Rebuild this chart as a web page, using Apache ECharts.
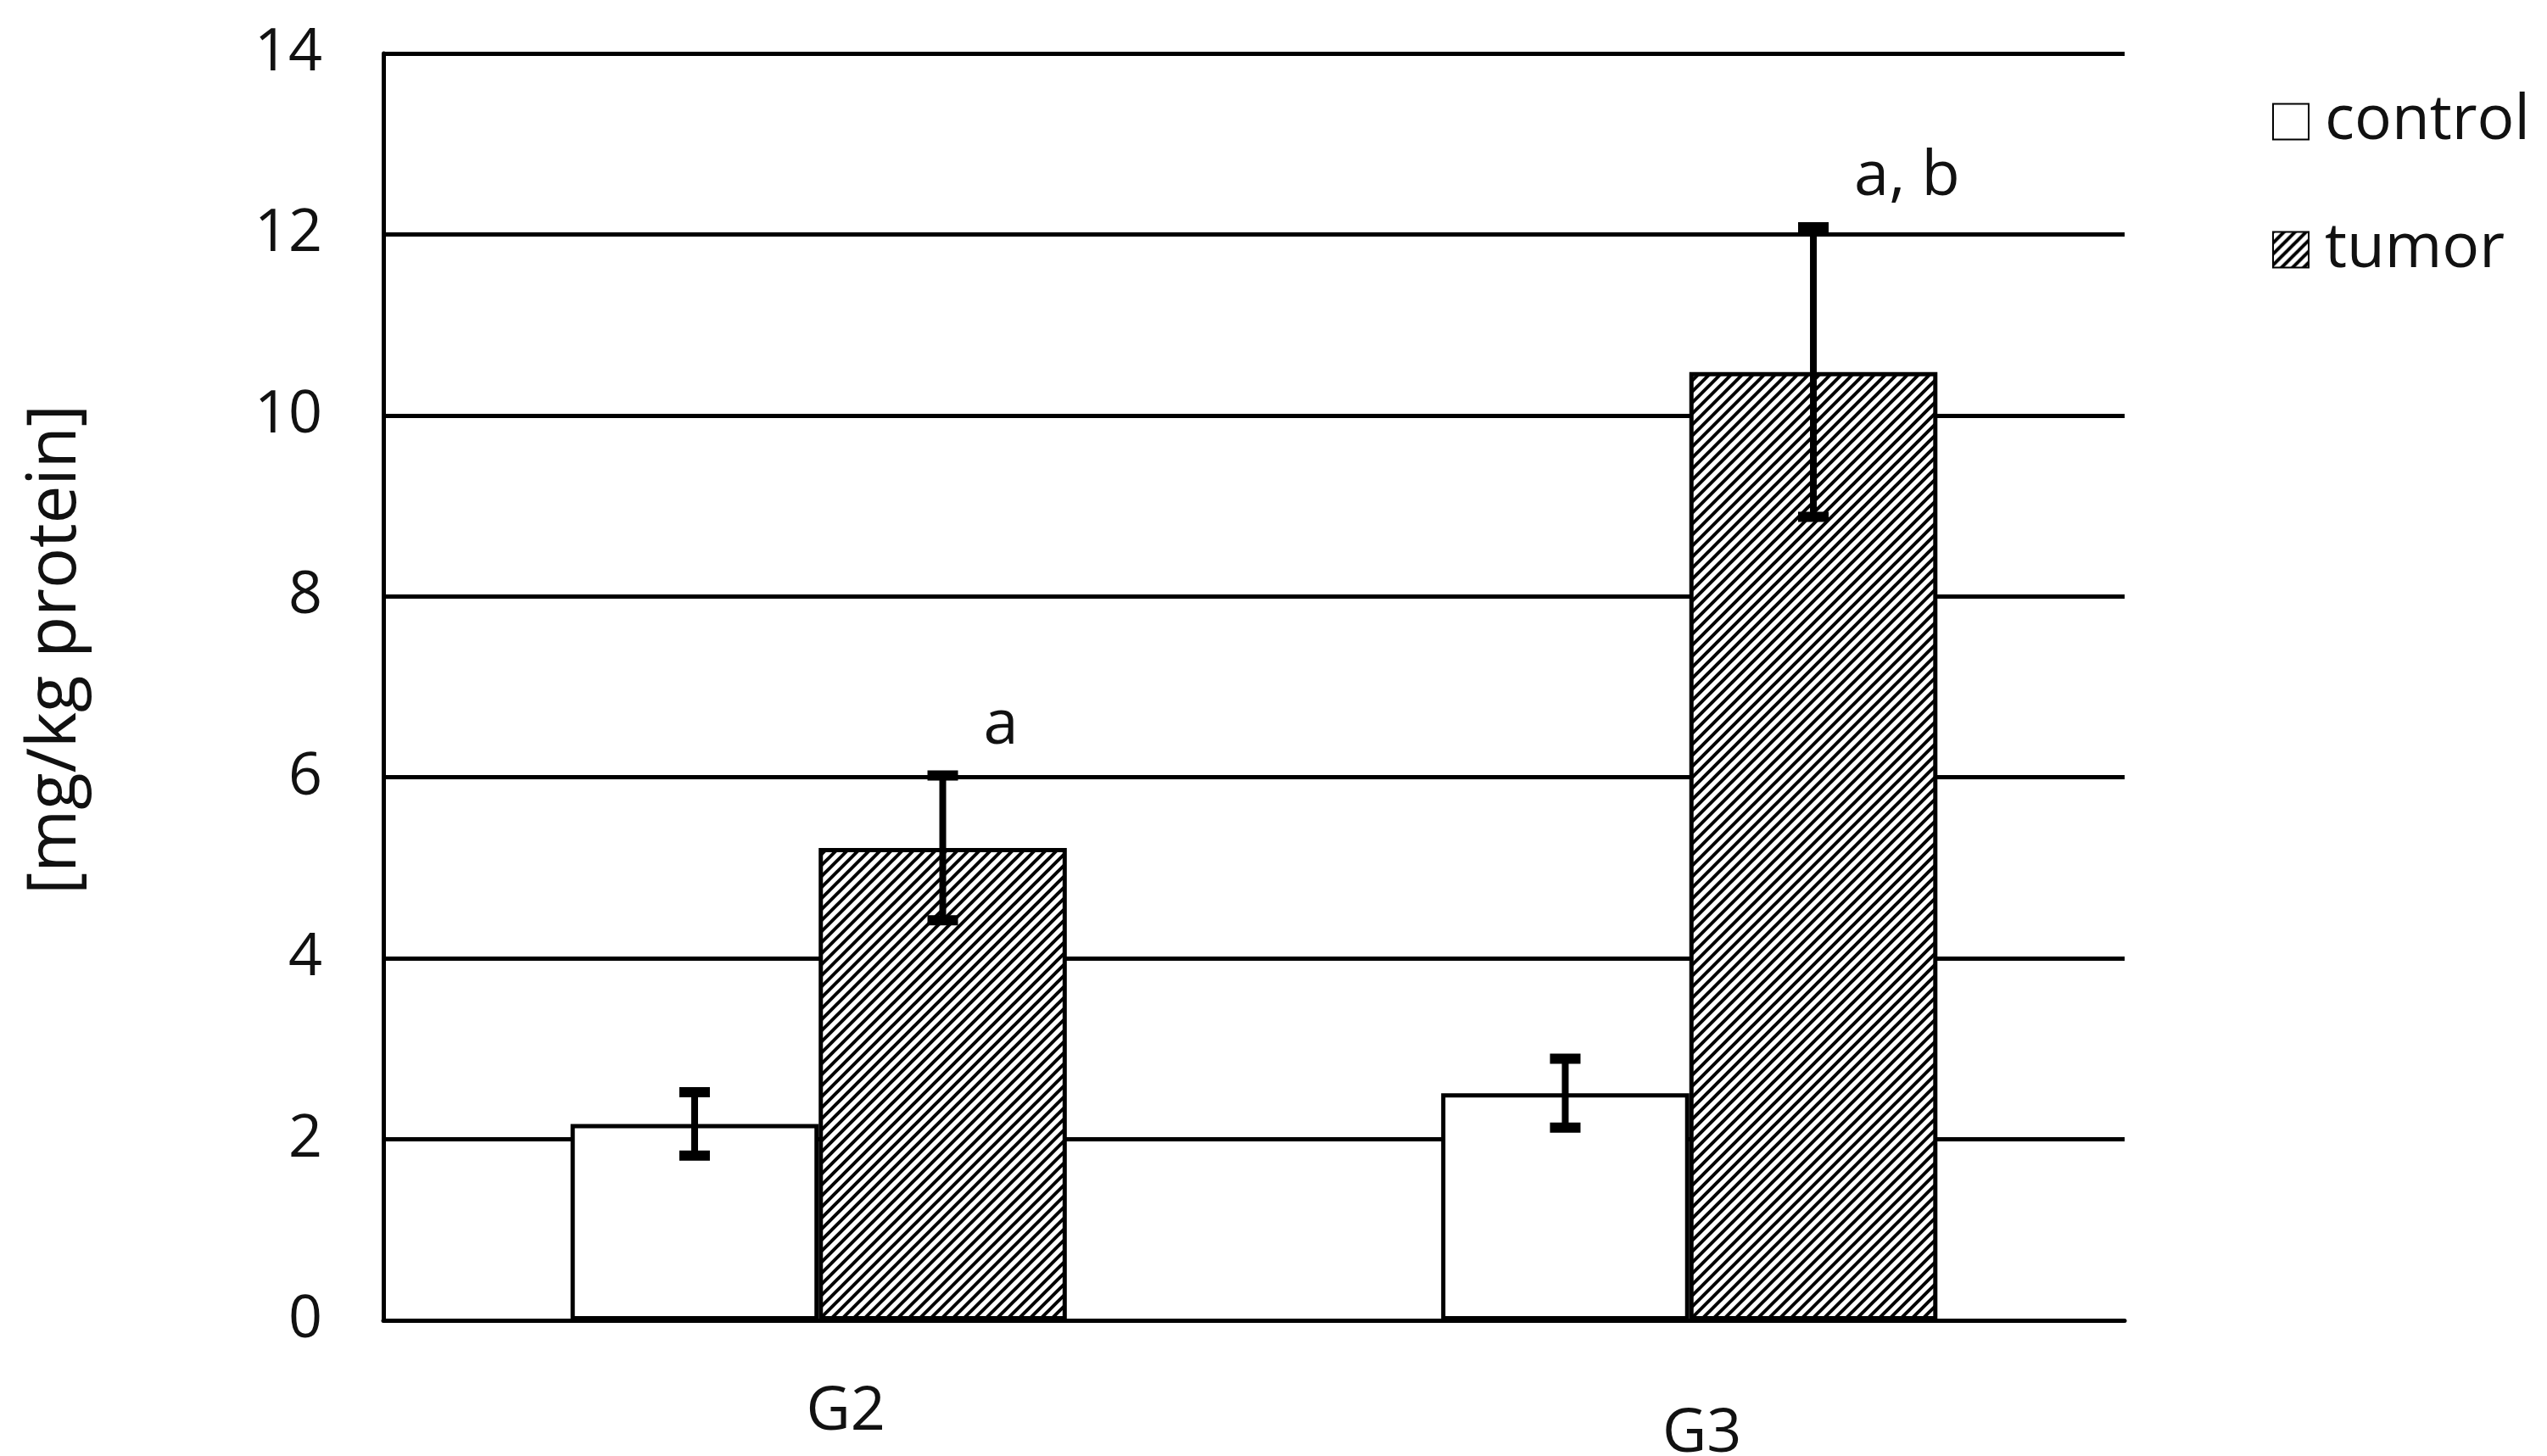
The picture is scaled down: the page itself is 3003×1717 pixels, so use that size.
<!DOCTYPE html>
<html>
<head>
<meta charset="utf-8">
<script src="https://cdn.jsdelivr.net/npm/echarts@6/dist/echarts.min.js"></script>
<style>
  html, body { margin: 0; padding: 0; background: #fff; }
  #chart { width: 3003px; height: 1717px; }
</style>
</head>
<body>
<div id="chart"></div>
<script>
  // data
  const groups = ['G2', 'G3']
  const controlMean = [2.17, 2.51]
  const controlErr = [0.35, 0.38]
  const tumorMean = [5.22, 10.48]
  const tumorErr = [0.80, 1.60]
  const tumorMarks = ['a', 'a, b']
  const yTicks = { min: 0, max: 14, interval: 2 }

  const FONT = '"Open Sans", "DejaVu Sans", sans-serif'
  const CAT_GAP = 0.43

  // hatch "///" for tumor bars
  function hatch() {
    const s = 13
    const c = document.createElement('canvas')
    c.width = s
    c.height = s
    const ctx = c.getContext('2d')
    ctx.fillStyle = '#fff'
    ctx.fillRect(0, 0, s, s)
    ctx.strokeStyle = '#000'
    ctx.lineWidth = 4
    ctx.beginPath()
    ctx.moveTo(-2, s + 2); ctx.lineTo(s + 2, -2)
    ctx.moveTo(-2, 2); ctx.lineTo(2, -2)
    ctx.moveTo(s - 2, s + 2); ctx.lineTo(s + 2, s - 2)
    ctx.stroke()
    return c
  }

  function errSeries(means, errs, marks, side) {
    return {
      type: 'custom',
      z: 10,
      silent: true,
      data: means.map((m, i) => [i, m, errs[i], marks ? marks[i] : '']),
      encode: { x: 0, y: 1 },
      renderItem(params, api) {
        const i = api.value(0)
        const m = api.value(1)
        const e = api.value(2)
        const band = api.size([1, 0])[0]
        const barW = band * (1 - CAT_GAP) / 2
        const x = api.coord([i, m])[0] + side * barW / 2
        const top = api.coord([i, m + e])[1]
        const bot = api.coord([i, m - e])[1]
        const cap = 18
        const children = [
          { type: 'line', shape: { x1: x, y1: top, x2: x, y2: bot }, style: { stroke: '#000', lineWidth: 8 } },
          { type: 'line', shape: { x1: x - cap, y1: top, x2: x + cap, y2: top }, style: { stroke: '#000', lineWidth: 12 } },
          { type: 'line', shape: { x1: x - cap, y1: bot, x2: x + cap, y2: bot }, style: { stroke: '#000', lineWidth: 12 } }
        ]
        const txt = marks ? marks[params.dataIndex] : ''
        if (txt) {
          children.push({
            type: 'text',
            style: {
              x: x + 48, y: top - 22, text: txt,
              font: '74px ' + FONT, fill: '#111',
              textAlign: 'left', textVerticalAlign: 'bottom'
            }
          })
        }
        return { type: 'group', children }
      }
    }
  }

  const chart = echarts.init(document.getElementById('chart'))

  const labelFont = { fontFamily: FONT, fontSize: 72, color: '#111' }

  const option = {
    backgroundColor: '#fff',
    animation: false,
    grid: { left: 452, right: 498, top: 63, bottom: 160, outerBoundsMode: 'none' },
    legend: {
      data: ['control', 'tumor'],
      orient: 'vertical',
      left: 2674,
      top: 102,
      icon: 'rect',
      itemWidth: 42,
      itemHeight: 42,
      itemGap: 78,
      textStyle: { fontFamily: FONT, fontSize: 73, color: '#111', padding: [0, 0, 0, 14] }
    },
    xAxis: {
      type: 'category',
      data: groups,
      axisLine: { lineStyle: { color: '#000', width: 5 } },
      axisTick: { show: false },
      axisLabel: {
        margin: 72,
        formatter: (v) => '{' + v + '|' + v + '}',
        rich: {
          G2: Object.assign({ padding: [0, 0, 0, 64] }, labelFont),
          G3: Object.assign({ padding: [26, 0, 0, 30] }, labelFont)
        }
      }
    },
    yAxis: {
      type: 'value',
      min: yTicks.min,
      max: yTicks.max,
      interval: yTicks.interval,
      name: '[mg/kg protein]',
      nameLocation: 'middle',
      nameGap: 346,
      nameTextStyle: { fontFamily: FONT, fontSize: 80, color: '#111', padding: [0, 0, 0, 88] },
      axisLine: { show: true, lineStyle: { color: '#000', width: 5 } },
      axisTick: { show: false },
      axisLabel: { fontFamily: FONT, fontSize: 70, color: '#111', margin: 72 },
      splitLine: { lineStyle: { color: '#000', width: 5 } }
    },
    series: [
      {
        name: 'control',
        type: 'bar',
        data: controlMean,
        barGap: '0%',
        barCategoryGap: (CAT_GAP * 100) + '%',
        itemStyle: { color: '#fff', borderColor: '#000', borderWidth: 5 }
      },
      {
        name: 'tumor',
        type: 'bar',
        data: tumorMean,
        itemStyle: { color: { image: hatch(), repeat: 'repeat' }, borderColor: '#000', borderWidth: 5 }
      },
      errSeries(controlMean, controlErr, null, -1),
      errSeries(tumorMean, tumorErr, tumorMarks, 1)
    ]
  }

  chart.setOption(option)
</script>
</body>
</html>
